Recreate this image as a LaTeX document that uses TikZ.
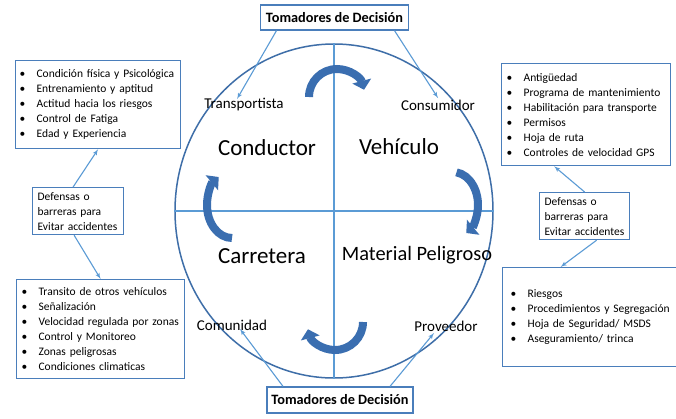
\documentclass[tikz,border=0pt]{standalone}
\usepackage{fontspec}
\setmainfont{Carlito}
\definecolor{ringblue}{RGB}{62,110,168}
\definecolor{boxblue}{RGB}{74,126,187}
\definecolor{linkblue}{RGB}{91,155,213}
\definecolor{turnblue}{RGB}{58,110,176}
\usetikzlibrary{shapes.geometric,arrows,arrows.meta}
\tikzstyle{listbox} = [rectangle, draw=boxblue, line width=1.2pt, align=left,
    anchor=north west, inner ysep=0pt, font=\fontsize{11.5}{15}\selectfont]
\tikzstyle{decider} = [rectangle, draw=boxblue, line width=1.2pt,
    minimum width=148pt, minimum height=25pt, font=\fontsize{14.3}{17}\selectfont\bfseries]
\tikzstyle{quad} = [font=\fontsize{23}{26}\selectfont]
\tikzstyle{role} = [font=\fontsize{15}{18}\selectfont]
\tikzstyle{axis} = [draw=linkblue, line width=1.4pt]
\tikzstyle{line} = [draw=linkblue, line width=1.1pt, -latex']
\tikzstyle{turn} = [draw=turnblue, line width=8pt, -{Triangle[length=9pt,width=19pt]}]
\newcommand{\bul}[1]{\makebox[17pt][l]{\textbullet}\mbox{#1}}

\begin{document}
\begin{tikzpicture}[x=1pt, y=-1pt]
  \fill[white] (0,0) rectangle (676,418);
  \useasboundingbox (0,0) rectangle (676,418);
  \clip (0,0) rectangle (676,418);
  % the wheel
  \node [ellipse, draw=ringblue, line width=1.5pt, minimum width=318pt, minimum height=334pt] (wheel) at (334,211) {};
  \draw [axis] (wheel.north) -- (wheel.south);
  \draw [axis] (wheel.west) -- (wheel.east);
  \node [quad] (conductor) at (267,148) {Conductor};
  \node [quad] (vehiculo) at (399,147) {Vehículo};
  \node [quad] (carretera) at (262,256) {Carretera};
  \node [font=\fontsize{20.4}{24}\selectfont] (material) at (417,255) {Material Peligroso};
  \node [role] (transportista) at (244,105) {Transportista};
  \node [role] (consumidor) at (438,105) {Consumidor};
  \node [role] (comunidad) at (232,325) {Comunidad};
  \node [role] (proveedor) at (446,326) {Proveedor};
  % turning arrows
  \coordinate (topturn) at (337,97);
  \coordinate (bottomturn) at (335,322);
  \coordinate (leftturn) at (232,205);
  \coordinate (rightturn) at (453,205);
  \draw [turn] ([shift={(180:28pt)}]topturn) arc [start angle=180, end angle=15, radius=28pt];
  \draw [turn] ([shift={(0:28pt)}]bottomturn) arc [start angle=0, end angle=-165, radius=28pt];
  \draw [turn] ([shift={(-90:25pt and 33pt)}]leftturn) arc [start angle=-90, end angle=-238, x radius=25pt, y radius=33pt];
  \draw [turn] ([shift={(82:25pt and 33pt)}]rightturn) arc [start angle=82, end angle=-58, x radius=25pt, y radius=33pt];
  % decision makers
  \node [decider] (deciderstop) at (334.5,17.5) {Tomadores de Decisión};
  \node [decider, minimum width=146pt, minimum height=26pt] (decidersbottom) at (340,400) {Tomadores de Decisión};
  \path [line] ([xshift=-58pt]deciderstop.south) -- ([xshift=-7pt, yshift=6pt]transportista.center);
  \path [line] ([xshift=60pt]deciderstop.south) -- ([yshift=7pt]consumidor.center);
  \path [line] ([xshift=-57pt]decidersbottom.north) -- ([xshift=8pt, yshift=-4pt]comunidad.center);
  \path [line] ([xshift=50pt]decidersbottom.north) -- ([xshift=-12pt, yshift=-7pt]proveedor.center);
  % lists
  \node [listbox, inner xsep=4pt, text width=157pt, minimum height=88pt] (driverlist) at (15,60)
    {\bul{Condición física y Psicológica}\\ \bul{Entrenamiento y aptitud}\\ \bul{Actitud hacia los riesgos}\\
     \bul{Control de Fatiga}\\ \bul{Edad y Experiencia}};
  \node [listbox, inner xsep=5pt, text width=159pt, minimum height=102pt] (vehiclelist) at (501,63)
    {\bul{Antigüedad}\\ \bul{Programa de mantenimiento}\\ \bul{Habilitación para transporte}\\
     \bul{Permisos}\\ \bul{Hoja de ruta}\\ \bul{Controles de velocidad GPS}};
  \node [listbox, inner xsep=5pt, text width=158pt, minimum height=99pt] (roadlist) at (16,279)
    {\bul{Transito de otros vehículos}\\ \bul{Señalización}\\ \bul{Velocidad regulada por zonas}\\
     \bul{Control y Monitoreo}\\ \bul{Zonas peligrosas}\\ \bul{Condiciones climaticas}};
  \node [listbox, inner xsep=8pt, text width=160pt, minimum height=99pt] (cargolist) at (502,267)
    {\bul{Riesgos}\\ \bul{Procedimientos y Segregación}\\ \bul{Hoja de Seguridad/ MSDS}\\
     \bul{Aseguramiento/ trinca}};
  % defenses
  \node [listbox, inner xsep=5pt, text width=81pt, minimum height=47pt] (defleft) at (32,187)
    {Defensas o\\ barreras para\\ \mbox{Evitar accidentes}};
  \node [listbox, inner xsep=5pt, text width=80pt, minimum height=47pt] (defright) at (539,192)
    {Defensas o\\ barreras para\\ \mbox{Evitar accidentes}};
  \path [line] ([xshift=-5pt]defleft.north) -- (driverlist.south);
  \path [line] ([xshift=-4pt]defleft.south) -- (roadlist.north);
  \path [line] (defright.north) -- ([xshift=-32pt]vehiclelist.south);
  \path [line] ([xshift=12pt]defright.south) -- ([xshift=-30pt]cargolist.north);
\end{tikzpicture}
\end{document}
